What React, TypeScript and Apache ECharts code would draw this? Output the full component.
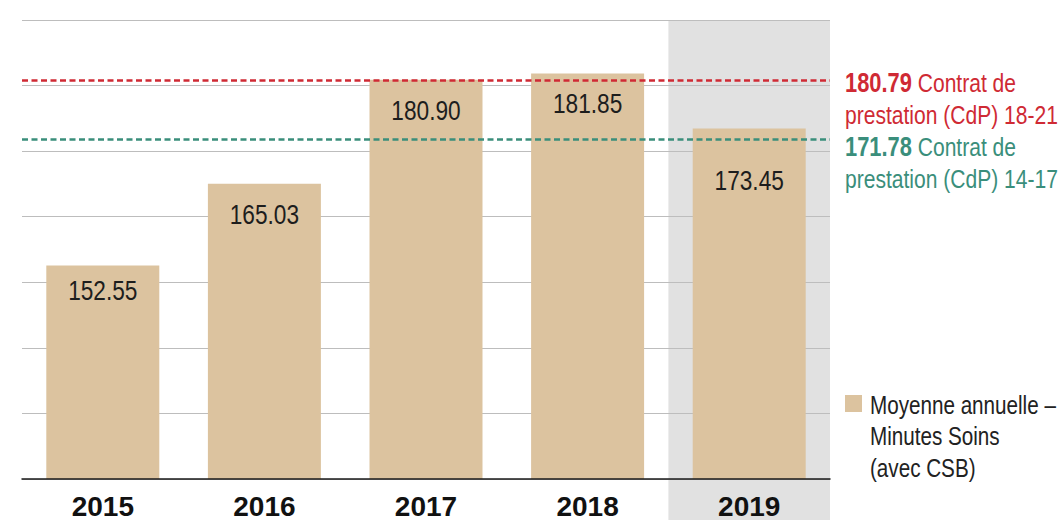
import React, { useEffect, useRef } from "react";
import * as echarts from "echarts";

const years = ["2015", "2016", "2017", "2018", "2019"];
const minutesSoins = [152.55, 165.03, 180.9, 181.85, 173.45];
const seriesName = "Moyenne annuelle –\nMinutes Soins\n(avec CSB)";
const highlightYear = "2019";
const contractValues = [180.79, 171.78];
const contractTexts = ["Contrat de\nprestation (CdP) 18-21", "Contrat de\nprestation (CdP) 14-17"];
const contractColors = ["#cf2a34", "#3a8e7b"];
const yMin = 120;
const yMax = 190;
const yInterval = 10;

// layout only: vertical distance (px) from bar top to its value label centre
const labelOffsets = [25, 30, 30, 30, 52];

const BAR_COLOR = "#dcc39f";
const BAND_COLOR = "#e1e1e1";
const FONT = "'Liberation Sans', Arial, sans-serif";
const NARROW_SCALE = 0.81;

export default function App() {
  const ref = useRef<HTMLDivElement>(null);
  useEffect(() => {
    if (!ref.current) return;
    const chart = echarts.init(ref.current, undefined, { renderer: "svg" });
    chart.setOption({
      animation: false,
      grid: { left: 22, right: 232, top: 20, bottom: 41, containLabel: false },
      xAxis: {
        type: "category",
        data: years,
        axisLine: { show: true, lineStyle: { color: "#1a1a1a", width: 1.5 } },
        axisTick: { show: false },
        axisLabel: {
          margin: 13,
          color: "#111",
          fontFamily: FONT,
          fontWeight: "bold",
          fontSize: 28,
        },
        z: 3,
      },
      yAxis: {
        type: "value",
        min: yMin,
        max: yMax,
        interval: yInterval,
        axisLabel: { show: false },
        axisLine: { show: false },
        axisTick: { show: false },
        splitLine: { lineStyle: { color: "#bdbdbd", width: 1 } },
      },
      series: [
        {
          name: seriesName,
          type: "bar",
          data: minutesSoins,
          barWidth: 113,
          itemStyle: { color: BAR_COLOR },
          label: { show: false },
          markLine: {
            silent: true,
            symbol: "none",
            label: { show: false },
            z: 5,
            data: contractValues.map((v, i) => ({
              yAxis: v,
              lineStyle: { color: contractColors[i], type: [6, 3.5], width: 2.5 },
            })),
          },
        },
        {
          name: "labels",
          type: "custom",
          silent: true,
          z: 6,
          data: minutesSoins.map((v, i) => [i, v]),
          encode: { x: 0, y: 1 },
          renderItem: (params: any, api: any) => {
            const idx = api.value(0);
            const v = api.value(1);
            const pt = api.coord([idx, v]);
            return {
              type: "text",
              x: pt[0],
              y: pt[1] + labelOffsets[params.dataIndex],
              scaleX: NARROW_SCALE,
              style: {
                text: Number(v).toFixed(2),
                fill: "#1d1d1d",
                fontFamily: FONT,
                fontSize: 28,
                align: "center",
                verticalAlign: "middle",
              },
            };
          },
        },
      ],
    });

    const c19 = chart.convertToPixel({ xAxisIndex: 0 }, highlightYear) as number;
    const c18 = chart.convertToPixel({ xAxisIndex: 0 }, years[years.length - 2]) as number;
    const half = (c19 - c18) / 2;
    const topY = chart.convertToPixel({ yAxisIndex: 0 }, yMax) as number;
    const H = chart.getHeight();

    const textTops = [67, 131];
    chart.setOption({
      graphic: [
        {
          type: "rect",
          z: -10,
          silent: true,
          shape: { x: c19 - half, y: topY, width: half * 2, height: H - topY },
          style: { fill: BAND_COLOR },
        },
        ...contractValues.map((v, i) => ({
          type: "text",
          x: 845,
          y: textTops[i],
          scaleX: NARROW_SCALE,
          style: {
            text: `{b|${v.toFixed(2)}} ${contractTexts[i]}`,
            fill: contractColors[i],
            fontFamily: FONT,
            fontSize: 26,
            lineHeight: 32,
            align: "left",
            verticalAlign: "top",
            rich: {
              b: {
                fontFamily: FONT,
                fontWeight: "bold",
                fontSize: 27,
                lineHeight: 32,
                fill: contractColors[i],
              },
            },
          },
        })),
        {
          type: "rect",
          silent: true,
          shape: { x: 845, y: 395, width: 17, height: 17 },
          style: { fill: BAR_COLOR },
        },
        {
          type: "text",
          x: 870,
          y: 389,
          scaleX: NARROW_SCALE,
          style: {
            text: seriesName,
            fill: "#222",
            fontFamily: FONT,
            fontSize: 25.5,
            lineHeight: 31.5,
            align: "left",
            verticalAlign: "top",
          },
        },
      ],
    });

    return () => chart.dispose();
  }, []);
  return (
    <div
      ref={ref}
      style={{ position: "fixed", left: 0, top: 0, width: 1062, height: 520, background: "#fff" }}
    />
  );
}
